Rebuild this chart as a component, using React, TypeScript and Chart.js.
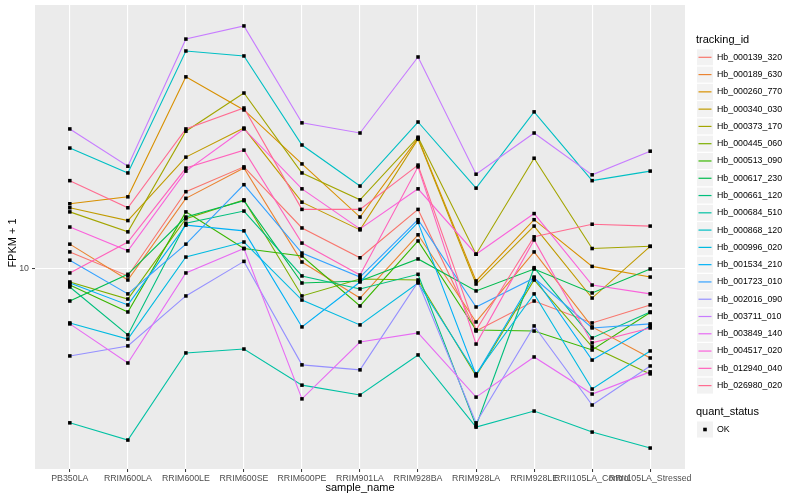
import React, { useEffect, useRef } from "react";
import { Chart, registerables } from "chart.js";

Chart.register(...registerables);

const FONT = '"Liberation Sans", Arial, Helvetica, sans-serif';

const categories = [
  "PB350LA",
  "RRIM600LA",
  "RRIM600LE",
  "RRIM600SE",
  "RRIM600PE",
  "RRIM901LA",
  "RRIM928BA",
  "RRIM928LA",
  "RRIM928LE",
  "RRII105LA_Control",
  "RRII105LA_Stressed",
];

const trackingIds = [
  "Hb_000139_320",
  "Hb_000189_630",
  "Hb_000260_770",
  "Hb_000340_030",
  "Hb_000373_170",
  "Hb_000445_060",
  "Hb_000513_090",
  "Hb_000617_230",
  "Hb_000661_120",
  "Hb_000684_510",
  "Hb_000868_120",
  "Hb_000996_020",
  "Hb_001534_210",
  "Hb_001723_010",
  "Hb_002016_090",
  "Hb_003711_010",
  "Hb_003849_140",
  "Hb_004517_020",
  "Hb_012940_040",
  "Hb_026980_020",
];

const seriesColors = [
  "#F8766D", "#EA8331", "#D89000", "#C09B00", "#A3A500",
  "#7CAE00", "#39B600", "#00BB4E", "#00BF7D", "#00C1A3",
  "#00BFC4", "#00BAE0", "#00B0F6", "#35A2FF", "#9590FF",
  "#C77CFF", "#E76BF3", "#FA62DB", "#FF62BC", "#FF6C91",
];

// FPKM + 1 values, one per sample (order of categories)
const hb_000139_320 = [11.4, 9.48, 18.1, 21.9, 13.7, 10.9, 15.8, 6.21, 7.82, 6.61, 7.59];
const hb_000189_630 = [12.1, 9.19, 17.2, 21.7, 10.55, 8.0, 13.0, 6.66, 11.4, 6.41, 5.05];
const hb_000260_770 = [16.5, 17.4, 43.7, 33.9, 22.4, 14.9, 27.3, 9.12, 14.6, 10.2, 9.4];
const hb_000340_030 = [16.0, 14.5, 23.6, 29.5, 16.7, 13.5, 27.1, 8.91, 13.9, 8.0, 11.9];
const hb_000373_170 = [15.5, 13.3, 28.8, 38.6, 20.9, 17.0, 27.5, 11.2, 23.4, 11.7, 11.9];
const hb_000445_060 = [9.05, 7.94, 14.7, 17.0, 8.13, 9.26, 9.19, 4.4, 9.19, 5.5, 4.47];
const hb_000513_090 = [8.84, 7.19, 15.5, 11.7, 11.05, 7.53, 12.4, 6.26, 6.21, 5.37, 7.16];
const hb_000617_230 = [7.82, 9.6, 14.9, 16.9, 8.98, 9.12, 10.8, 8.45, 10.0, 8.32, 10.0];
const hb_000661_120 = [8.71, 6.03, 14.2, 15.6, 9.48, 8.58, 9.6, 3.0, 10.1, 5.89, 7.19];
const hb_000684_510 = [3.07, 2.69, 5.25, 5.41, 4.1, 3.8, 5.17, 2.97, 3.36, 2.86, 2.53];
const hb_000868_120 = [25.3, 20.9, 53.3, 51.3, 25.9, 18.9, 30.9, 18.6, 33.4, 19.7, 21.2];
const hb_000996_020 = [6.61, 5.84, 10.96, 12.3, 7.88, 6.51, 8.98, 4.47, 8.26, 3.98, 5.33];
const hb_001534_210 = [8.98, 7.59, 14.0, 13.4, 6.41, 9.05, 14.3, 4.43, 9.4, 4.97, 6.46];
const hb_001723_010 = [10.7, 8.26, 12.1, 19.1, 11.3, 9.4, 14.6, 7.47, 9.33, 6.36, 6.56];
const hb_002016_090 = [5.13, 5.54, 8.13, 10.6, 4.79, 4.61, 9.05, 3.07, 6.46, 3.52, 4.75];
const hb_003711_010 = [29.3, 22.0, 58.4, 64.6, 30.7, 28.4, 50.9, 20.7, 28.4, 20.6, 24.7];
const hb_003849_140 = [6.56, 4.86, 9.7, 11.7, 3.69, 5.71, 6.12, 3.74, 5.09, 3.83, 4.54];
const hb_004517_020 = [13.8, 11.5, 21.2, 29.3, 18.5, 13.6, 18.5, 11.2, 15.3, 8.84, 8.26];
const hb_012940_040 = [9.7, 12.3, 21.7, 24.9, 12.2, 9.55, 21.9, 5.62, 12.5, 5.67, 6.36];
const hb_026980_020 = [19.7, 16.0, 29.3, 34.4, 15.8, 15.8, 22.2, 6.26, 12.8, 14.1, 13.9];

const seriesValues = [
  hb_000139_320, hb_000189_630, hb_000260_770, hb_000340_030, hb_000373_170,
  hb_000445_060, hb_000513_090, hb_000617_230, hb_000661_120, hb_000684_510,
  hb_000868_120, hb_000996_020, hb_001534_210, hb_001723_010, hb_002016_090,
  hb_003711_010, hb_003849_140, hb_004517_020, hb_012940_040, hb_026980_020,
];

const yTickValues = [10];
const yMin = 2.154;
const yMax = 75.86;

const ggPlugin = {
  id: "ggStyle",
  beforeDraw(chart: any) {
    const { ctx, chartArea } = chart;
    ctx.save();
    ctx.fillStyle = "#FFFFFF";
    ctx.fillRect(0, 0, chart.width, chart.height);
    ctx.fillStyle = "#EBEBEB";
    ctx.fillRect(chartArea.left, chartArea.top, chartArea.right - chartArea.left, chartArea.bottom - chartArea.top);
    ctx.restore();
  },
  afterDraw(chart: any) {
    const { ctx, chartArea } = chart;
    ctx.save();
    ctx.textAlign = "center";
    ctx.textBaseline = "middle";
    ctx.fillStyle = "#000000";
    ctx.font = `11px ${FONT}`;
    ctx.fillText("sample_name", (chartArea.left + chartArea.right) / 2, 488);
    ctx.save();
    ctx.translate(13, 243);
    ctx.rotate(-Math.PI / 2);
    ctx.fillText("FPKM + 1", 0, 0);
    ctx.restore();

    // legend: tracking_id
    ctx.textAlign = "left";
    ctx.font = `11px ${FONT}`;
    ctx.fillText("tracking_id", 696, 40);
    trackingIds.forEach((id, i) => {
      const cy = 57.3 + i * 17.28;
      ctx.fillStyle = "#F2F2F2";
      ctx.fillRect(697, cy - 8, 16, 16);
      ctx.strokeStyle = seriesColors[i];
      ctx.lineWidth = 1.2;
      ctx.beginPath();
      ctx.moveTo(698.5, cy);
      ctx.lineTo(711.5, cy);
      ctx.stroke();
      ctx.fillStyle = "#000000";
      ctx.font = `8.8px ${FONT}`;
      ctx.fillText(id, 717, cy);
    });

    // legend: quant_status
    ctx.font = `11px ${FONT}`;
    ctx.fillText("quant_status", 696, 412);
    const okY = 429.5;
    ctx.fillStyle = "#F2F2F2";
    ctx.fillRect(697, okY - 8, 16, 16);
    ctx.fillStyle = "#000000";
    ctx.fillRect(703.2, okY - 1.8, 3.6, 3.6);
    ctx.font = `8.8px ${FONT}`;
    ctx.fillText("OK", 717, okY);
    ctx.restore();
  },
};

export default function App() {
  const canvasRef = useRef<HTMLCanvasElement | null>(null);

  useEffect(() => {
    const canvas = canvasRef.current;
    if (!canvas) return;

    const lineSets = seriesValues.map((vals, i) => ({
      type: "line" as const,
      label: trackingIds[i],
      data: vals.map((v, j) => ({ x: j, y: v })),
      borderColor: seriesColors[i],
      backgroundColor: seriesColors[i],
      borderWidth: 1.1,
      pointRadius: 0,
      fill: false,
      tension: 0,
      order: seriesValues.length - i,
    }));

    const pointSet = {
      type: "scatter" as const,
      label: "OK",
      data: seriesValues.flatMap((vals) => vals.map((v, j) => ({ x: j, y: v }))),
      pointStyle: "rect",
      pointRadius: 2.5,
      backgroundColor: "#000000",
      borderWidth: 0,
      showLine: false,
      order: 0,
    };

    const tickFont = { family: FONT, size: 8.8 };

    const chart = new Chart(canvas, {
      type: "line",
      data: { datasets: [...lineSets, pointSet] as any },
      options: {
        responsive: false,
        animation: false,
        events: [],
        layout: { padding: { left: 0, right: 115, top: 5, bottom: 0 } },
        plugins: {
          legend: { display: false },
          tooltip: { enabled: false },
        },
        scales: {
          x: {
            type: "linear",
            min: -0.6,
            max: 10.6,
            afterBuildTicks: (s: any) => {
              s.ticks = categories.map((_, i) => ({ value: i }));
            },
            afterFit: (s: any) => {
              s.height = 31;
              s.paddingLeft = 0;
              s.paddingRight = 0;
            },
            ticks: {
              autoSkip: false,
              maxRotation: 0,
              minRotation: 0,
              padding: 1,
              color: "#4D4D4D",
              font: tickFont,
              callback: (_v: any, idx: number) => categories[idx],
            },
            grid: {
              color: "#FFFFFF",
              lineWidth: 1.1,
              drawTicks: true,
              tickLength: 3,
              tickColor: "#333333",
              tickWidth: 1,
            },
            border: { display: false },
          },
          y: {
            type: "logarithmic",
            min: yMin,
            max: yMax,
            afterBuildTicks: (s: any) => {
              s.ticks = yTickValues.map((v) => ({ value: v }));
            },
            afterFit: (s: any) => {
              s.width = 35;
              s.paddingTop = 0;
              s.paddingBottom = 0;
            },
            ticks: {
              autoSkip: false,
              padding: 3,
              color: "#4D4D4D",
              font: tickFont,
              callback: (v: any) => String(v),
            },
            grid: {
              color: "#FFFFFF",
              lineWidth: 1.1,
              drawTicks: true,
              tickLength: 3,
              tickColor: "#333333",
              tickWidth: 1,
            },
            border: { display: false },
          },
        },
      } as any,
      plugins: [ggPlugin],
    });

    return () => {
      chart.destroy();
    };
  }, []);

  return (
    <div style={{ position: "absolute", left: 0, top: 0, width: 800, height: 500, background: "#FFFFFF" }}>
      <canvas ref={canvasRef} width={800} height={500} style={{ display: "block" }} />
    </div>
  );
}
